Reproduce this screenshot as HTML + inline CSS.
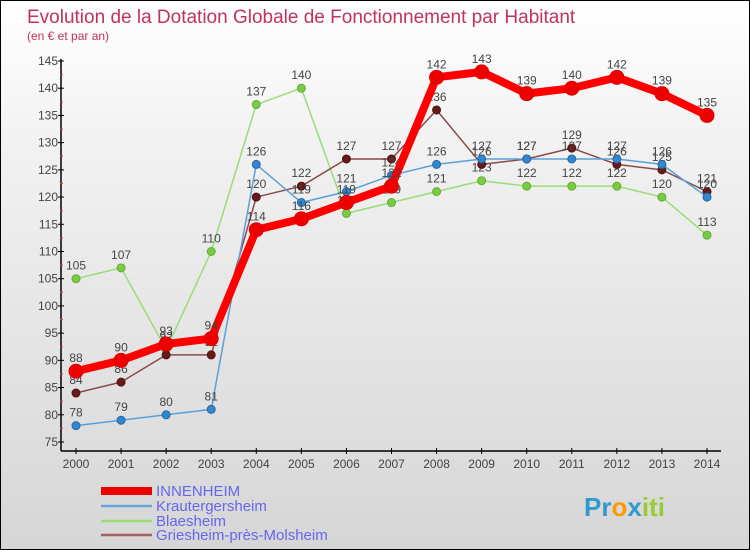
<!DOCTYPE html>
<html><head><meta charset="utf-8"><style>
html,body{margin:0;padding:0}
#chart{position:relative;width:750px;height:550px;box-sizing:border-box;border:1px solid #000;background:linear-gradient(#ffffff,#f2f2f2 25%,#d6d6d6);font-family:"Liberation Sans",sans-serif;overflow:hidden}
svg{position:absolute;left:0;top:0}
</style></head><body>
<div id="chart">
<svg id="svg" width="750" height="550">
<text x="26" y="22" font-size="19" fill="#c0335a">Evolution de la Dotation Globale de Fonctionnement par Habitant</text>
<text x="26" y="39" font-size="12" fill="#c0335a">(en € et par an)</text>
</svg>
</div>
<script>
const years=[2000,2001,2002,2003,2004,2005,2006,2007,2008,2009,2010,2011,2012,2013,2014];
const yTicks=[75,80,85,90,95,100,105,110,115,120,125,130,135,140,145];
const innenheim=[88,90,93,94,114,116,119,122,142,143,139,140,142,139,135];
const krautergersheim=[78,79,80,81,126,119,121,124,126,127,127,127,127,126,120];
const blaesheim=[105,107,92,110,137,140,117,119,121,123,122,122,122,120,113];
const griesheim=[84,86,91,91,120,122,127,127,136,126,127,129,126,125,121];
const seriesNames=["INNENHEIM","Krautergersheim","Blaesheim","Griesheim-près-Molsheim"];

const svg=document.getElementById('svg');
const NS='http://www.w3.org/2000/svg';
function X(i){return 75+(706-75)*i/(years.length-1);}
function Y(v){return 441-(v-75)*(441-60)/(145-75);}
function mk(t,a,p){const e=document.createElementNS(NS,t);for(const k in a)e.setAttribute(k,a[k]);(p||svg).appendChild(e);return e;}

// axes
const ax=mk('g',{});


mk('line',{x1:60,y1:58,x2:60,y2:450,stroke:'#000','stroke-width':1.5},ax);
mk('line',{x1:60,y1:450,x2:720,y2:450,stroke:'#000','stroke-width':1.5},ax);
yTicks.forEach((v,k)=>{
  mk('line',{x1:57,y1:Y(v),x2:63,y2:Y(v),stroke:'#000'},ax);
  if(k<yTicks.length-1) mk('line',{x1:59,y1:Y(v+2.5),x2:62,y2:Y(v+2.5),stroke:'#e33'},ax);
  const t=mk('text',{x:57,y:Y(v)+4,'font-size':12,'text-anchor':'end',fill:'#444'},ax);
  t.textContent=v;
  
  
});
years.forEach((yr,i)=>{
  mk('line',{x1:X(i),y1:447,x2:X(i),y2:453,stroke:'#000'},ax);
  const t=mk('text',{x:X(i),y:467,'font-size':12,'text-anchor':'middle',fill:'#444'},ax);
  t.textContent=yr;
  
  
});

function series(data,name,color,lw,r,dot,stroke){
  const g=mk('g',{});
  
  
  mk('polyline',{points:data.map((v,i)=>X(i)+','+Y(v)).join(' '),fill:'none',stroke:color,'stroke-width':lw,'stroke-linejoin':'round'},g);
  data.forEach((v,i)=>{
    const c=mk('circle',{cx:X(i),cy:Y(v),r:r,fill:dot,stroke:stroke,'stroke-width':1},g);
    
    
    const t=mk('text',{x:X(i),y:Y(v)-9,'font-size':12,'text-anchor':'middle',fill:'#444'},g);
    t.textContent=v;
    
    
  });
}
series(blaesheim,'series-blaesheim','#99dd77',1.5,4,'#77cc44','#66aa33');
series(griesheim,'series-griesheim','#8b4a4a',1.5,4,'#661a1a','#551010');
series(krautergersheim,'series-krautergersheim','#5aa0d8',1.5,4,'#3388cc','#2266aa');
series(innenheim,'series-innenheim','#ff0000',8,7,'#ee0000','#dd0000');

// legend
const colors=['#ee0000','#6aa6d6','#99dd77','#a06060'];
const widths=[8,2.5,2.5,2.5];
const ly=[493,508,523,537];
seriesNames.forEach((n,i)=>{
  const g=mk('g',{});
  
  
  mk('line',{x1:100,y1:ly[i]-3,x2:151,y2:ly[i]-3,stroke:colors[i],'stroke-width':widths[i]},g);
  const t=mk('text',{x:155,y:ly[i]+2,'font-size':15,fill:'#6666ee'},g);
  t.textContent=n;
});
// logo
const lg=mk('text',{x:583,y:515,'font-size':26,'font-weight':'bold',fill:'#3399cc'});


lg.innerHTML='<tspan fill="#3399cc">Pr</tspan><tspan fill="#ff9900">o</tspan><tspan fill="#3399cc">x</tspan><tspan fill="#99cc33">iti</tspan>';
</script>
</body></html>
